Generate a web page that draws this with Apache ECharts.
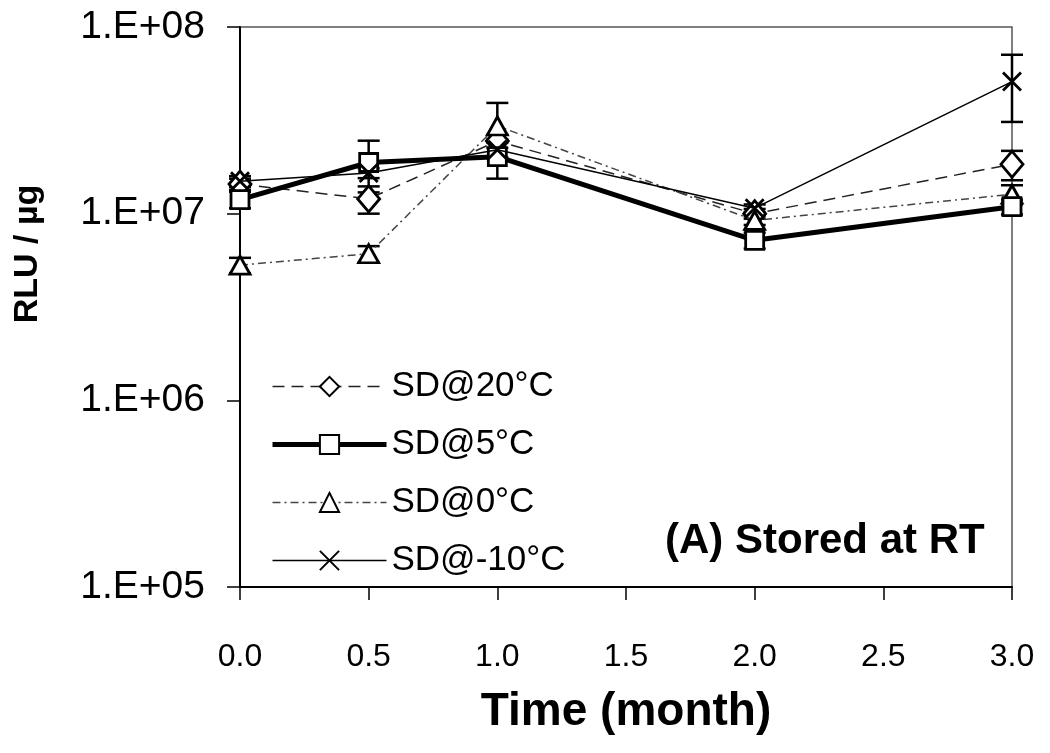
<!DOCTYPE html>
<html>
<head>
<meta charset="utf-8">
<script src="https://cdn.jsdelivr.net/npm/echarts@6/dist/echarts.min.js"></script>
<style>html,body{margin:0;padding:0;background:#fff}#c{width:1050px;height:753px}</style>
</head>
<body>
<div id="c"></div>
<script>
const months = [0, 0.5, 1, 2, 3];
const xTicks = ['0.0','0.5','1.0','1.5','2.0','2.5','3.0'];
const seriesNames = ['SD@20°C', 'SD@5°C', 'SD@0°C', 'SD@-10°C'];
const sd20 = [1.44e7, 1.2e7, 2.45e7, 1.0e7, 1.84e7];
const sd20Err = [0.1e7, 0.2e7, 0.2e7, 0.06e7, 0.33e7];
const sd5 = [1.19e7, 1.88e7, 2.02e7, 7.2e6, 1.09e7];
const sd5Err = [0.12e7, 0.58e7, 0.48e7, 0.07e7, 0.1e7];
const sd0 = [5.3e6, 6.1e6, 2.95e7, 9.2e6, 1.27e7];
const sd0Err = [0.5e6, 0.6e6, 0.97e7, 0.5e6, 0.15e7];
const sdm10 = [1.49e7, 1.65e7, 2.2e7, 1.07e7, 5.1e7];
const sdm10Err = [0.1e7, 0.1e7, 0.2e7, 0.05e7, 2.0e7];
const yTickLabels = ['1.E+05','1.E+06','1.E+07','1.E+08'];

const allVals = [sd20, sd5, sd0, sdm10];
const allErr = [sd20Err, sd5Err, sd0Err, sdm10Err];

const errData = [];
allVals.forEach((vals, s) => {
  vals.forEach((v, i) => {
    errData.push([months[i], v - allErr[s][i], v + allErr[s][i]]);
  });
});

const FONT = '"Liberation Sans", Arial, sans-serif';
const chart = echarts.init(document.getElementById('c'), null, {renderer: 'canvas'});

const markerStyle = {color: '#fff', borderColor: '#000', borderWidth: 2.8};
const xPath = 'path://M0,0L10,10M10,0L0,10';

const lineStyles = [
  {color: '#222', width: 1.5, type: [12, 7]},
  {color: '#000', width: 5, type: 'solid'},
  {color: '#444', width: 1.5, type: [8, 4, 2, 4]},
  {color: '#000', width: 1.5, type: 'solid'}
];

function lineSeries(name, data, symbol, size, lineStyle, z) {
  return {
    name: name,
    type: 'line',
    data: months.map((m, i) => [m, data[i]]),
    symbol: symbol,
    symbolSize: size,
    showAllSymbol: true,
    itemStyle: Object.assign({}, markerStyle),
    lineStyle: lineStyle,
    z: z,
    animation: false
  };
}

const option = {
  animation: false,
  backgroundColor: '#fff',
  grid: {left: 240, top: 27, right: 38, bottom: 166, show: true, borderColor: '#555', borderWidth: 1.5, backgroundColor: 'transparent'},
  xAxis: {
    type: 'value', min: 0, max: 3, interval: 0.5,
    axisLine: {lineStyle: {color: '#000', width: 2}},
    axisTick: {show: true, inside: false, length: 13, lineStyle: {color: '#000', width: 1.5}},
    splitLine: {show: false},
    axisLabel: {
      margin: 54, fontSize: 32, color: '#000', fontFamily: FONT,
      formatter: function (v) { return xTicks[Math.round(v / 0.5)]; }
    },
    name: 'Time (month)', nameLocation: 'middle', nameGap: 102,
    nameTextStyle: {fontSize: 46, fontWeight: 'bold', color: '#000', fontFamily: FONT}
  },
  yAxis: {
    type: 'log', logBase: 10, min: 1e5, max: 1e8,
    axisLine: {lineStyle: {color: '#000', width: 2}},
    axisTick: {show: true, inside: false, length: 13, lineStyle: {color: '#000', width: 1.5}},
    splitLine: {show: false},
    minorTick: {show: false},
    axisLabel: {
      margin: 35, fontSize: 39, color: '#000', fontFamily: FONT,
      formatter: function (v) { return yTickLabels[Math.round(Math.log10(v)) - 5]; }
    }
  },
  legend: {
    orient: 'vertical', left: 265, top: 364,
    itemWidth: 114, itemHeight: 24, itemGap: 23,
    textStyle: {fontSize: 35, color: '#000', fontFamily: FONT, padding: [0, 0, 0, 0]},
    data: seriesNames.map((n, i) => ({name: n, lineStyle: lineStyles[i]}))
  },
  graphic: [
    {type: 'text', left: 665, top: 520, style: {text: '(A) Stored at RT', font: 'bold 42px ' + FONT, fill: '#000'}},
    {type: 'text', x: 28, y: 254, rotation: Math.PI / 2, style: {text: 'RLU / µg', font: 'bold 34px ' + FONT, fill: '#000', align: 'center', verticalAlign: 'middle'}}
  ],
  series: [
    {
      type: 'custom', name: 'err', data: errData, z: 1, silent: true,
      renderItem: function (params, api) {
        const x = api.value(0);
        const lo = api.coord([x, api.value(1)]);
        const hi = api.coord([x, api.value(2)]);
        const w = 11;
        const st = {stroke: '#000', lineWidth: 2.5};
        return {type: 'group', children: [
          {type: 'line', shape: {x1: lo[0], y1: lo[1], x2: hi[0], y2: hi[1]}, style: st},
          {type: 'line', shape: {x1: lo[0] - w, y1: lo[1], x2: lo[0] + w, y2: lo[1]}, style: st},
          {type: 'line', shape: {x1: hi[0] - w, y1: hi[1], x2: hi[0] + w, y2: hi[1]}, style: st}
        ]};
      }
    },
    lineSeries(seriesNames[0], sd20, 'diamond', [22, 26], lineStyles[0], 3),
    lineSeries(seriesNames[1], sd5, 'rect', [18, 18], lineStyles[1], 5),
    lineSeries(seriesNames[2], sd0, 'triangle', [20, 18], lineStyles[2], 4),
    lineSeries(seriesNames[3], sdm10, xPath, [18, 18], lineStyles[3], 6)
  ]
};
chart.setOption(option);
</script>
</body>
</html>
